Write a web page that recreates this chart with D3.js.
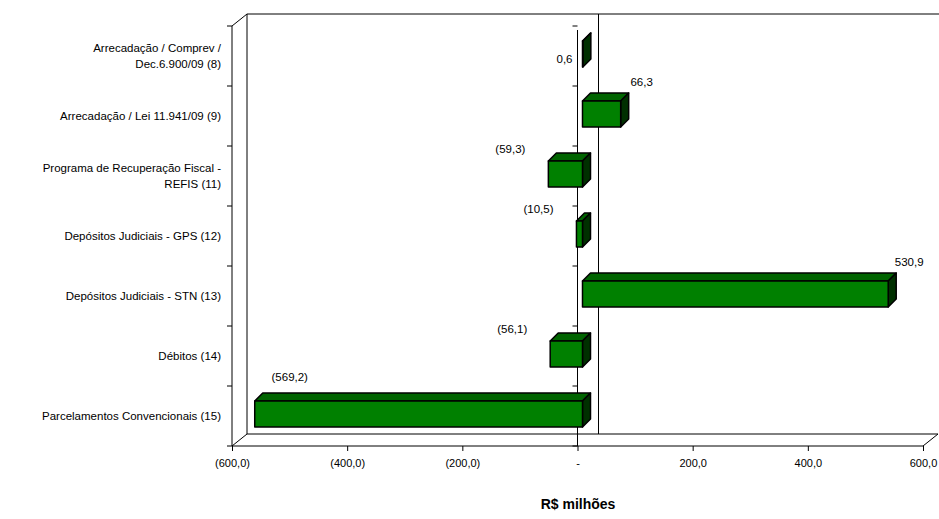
<!DOCTYPE html>
<html><head><meta charset="utf-8">
<script src="https://cdn.jsdelivr.net/npm/d3@7"></script>
<style>html,body{margin:0;padding:0;background:#fff;overflow:hidden}svg{display:block}text{font-family:"Liberation Sans",Arial,sans-serif;fill:#000}</style>
</head><body><div id="chart"></div>
<script>
var categories = [["Arrecadação / Comprev /","Dec.6.900/09 (8)"],["Arrecadação / Lei 11.941/09 (9)"],["Programa de Recuperação Fiscal -","REFIS (11)"],["Depósitos Judiciais - GPS (12)"],["Depósitos Judiciais - STN (13)"],["Débitos (14)"],["Parcelamentos Convencionais (15)"]];
var values = [0.6, 66.3, -59.3, -10.5, 530.9, -56.1, -569.2];
var valueLabels = ["0,6","66,3","(59,3)","(10,5)","530,9","(56,1)","(569,2)"];
var tickVals = [-600,-400,-200,0,200,400,600];
var tickLabels = ["(600,0)","(400,0)","(200,0)","-","200,0","400,0","600,0"];

var W=939,H=519, dx=15, dy=-12;
var svg=d3.select("#chart").append("svg").attr("width",W).attr("height",H);
var x=d3.scaleLinear().domain([-600,600]).range([232,923]);
var y=d3.scaleBand().domain(d3.range(categories.length)).range([26,446]);
var yBottom=446, yTop=26;

var g=svg.append("g").attr("fill","none").attr("stroke","#000").attr("stroke-width",1);
g.append("path").attr("d","M"+(232+dx)+","+(yBottom+dy)+"L"+(232+dx)+","+(yTop+dy)+"L"+W+","+(yTop+dy));
g.append("path").attr("d","M232,"+yTop+"L"+(232+dx)+","+(yTop+dy));
g.append("path").attr("d","M232,"+yBottom+"L"+(232+dx)+","+(yBottom+dy)+"L"+(923+dx)+","+(yBottom+dy)+"L923,"+yBottom+"Z");
g.append("line").attr("x1",x(0)+21).attr("x2",x(0)+21).attr("y1",yTop+dy).attr("y2",yBottom+dy);
g.append("line").attr("x1",232).attr("x2",232).attr("y1",yTop).attr("y2",yBottom);
g.append("line").attr("x1",x(0)).attr("x2",x(0)).attr("y1",yTop+4).attr("y2",yBottom);
svg.append("g").attr("transform","translate(0,"+yBottom+")")
  .call(d3.axisBottom(x).tickValues(tickVals).tickFormat(function(d,i){return tickLabels[i];}).tickSize(5))
  .call(function(a){a.select(".domain").remove();a.selectAll("text").attr("font-size",11).attr("dy","1.2em");});
d3.range(categories.length+1).forEach(function(i){
  var yy=yTop+i*y.step();
  g.append("line").attr("x1",227).attr("x2",232).attr("y1",yy).attr("y2",yy);
  g.append("line").attr("x1",x(0)-5).attr("x2",x(0)).attr("y1",yy).attr("y2",yy);
});
categories.forEach(function(c,i){
  var cy=y(i)+y.bandwidth()/2, n=c.length;
  c.forEach(function(line,j){
    svg.append("text").attr("x",221).attr("y",cy+(j-(n-1)/2)*16+4).attr("text-anchor","end")
      .attr("font-size",11.5).text(line);
  });
});
var bh=26, bx=8, by=-8, off=5;
values.forEach(function(v,i){
  var x0=x(Math.min(0,v))+off, x1=x(Math.max(0,v))+off, yt=y(i)+y.bandwidth()/2-6-bh/2+4;
  var bg=svg.append("g").attr("stroke","#000").attr("stroke-width",1.5).attr("stroke-linejoin","round");
  bg.append("path").attr("fill","#006400").attr("d","M"+x0+","+yt+"l"+bx+","+by+"H"+(x1+bx)+"L"+x1+","+yt+"Z");
  bg.append("path").attr("fill","#003000").attr("d","M"+x1+","+yt+"l"+bx+","+by+"v"+bh+"l"+(-bx)+","+(-by)+"Z");
  bg.append("rect").attr("fill","#008000").attr("x",x0).attr("y",yt).attr("width",x1-x0).attr("height",bh);
  var lx,ly;
  if(v>=0){lx=x1+bx+13;ly=yt-15;}
  else{lx=(x0-38<250)?x0+35:x0-38;ly=yt-(x0-38<250?20:8);}
  if(i==0){lx=x0-10;ly=yt+22;}
  svg.append("text").attr("x",lx).attr("y",ly).attr("text-anchor",i==0?"end":"middle").attr("font-size",11.5).text(valueLabels[i]);
});
svg.append("text").attr("x",578).attr("y",509).attr("text-anchor","middle").attr("font-size",14).attr("font-weight","bold").text("R$ milhões");
</script></body></html>
